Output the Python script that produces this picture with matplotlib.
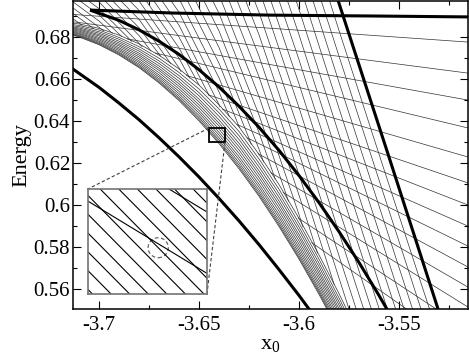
import numpy as np
import matplotlib
matplotlib.use("Agg")
import matplotlib.pyplot as plt
from matplotlib.patches import Rectangle, Ellipse

plt.rcParams['font.family'] = ['Liberation Serif', 'DejaVu Serif']
plt.rcParams['mathtext.fontset'] = 'custom'
plt.rcParams['mathtext.rm'] = 'Liberation Serif'
plt.rcParams['mathtext.it'] = 'Liberation Serif:italic'

n = np.nan

# x positions where the band levels were read
band_x = [-3.72, -3.71, -3.70, -3.69, -3.68, -3.67, -3.66, -3.65,
          -3.64, -3.63, -3.62, -3.61, -3.60, -3.59, -3.58, -3.57]

# dense band of levels, lower edge first
band_E = [
    [0.6827, 0.6802, 0.6765, 0.6716, 0.6656, 0.6583, 0.6499, 0.6402, 0.6294, 0.6174, 0.6043, 0.5899, 0.5744, 0.5576, 0.5397, n],
    [0.6829, 0.6805, 0.6768, 0.6720, 0.6660, 0.6588, 0.6505, 0.6409, 0.6302, 0.6182, 0.6051, 0.5907, 0.5751, 0.5584, 0.5404, n],
    [0.6831, 0.6808, 0.6772, 0.6725, 0.6666, 0.6595, 0.6512, 0.6418, 0.6311, 0.6192, 0.6061, 0.5917, 0.5761, 0.5593, 0.5414, n],
    [0.6834, 0.6811, 0.6777, 0.6730, 0.6673, 0.6603, 0.6521, 0.6428, 0.6322, 0.6204, 0.6073, 0.5929, 0.5773, 0.5604, 0.5425, n],
    [0.6837, 0.6816, 0.6782, 0.6737, 0.6681, 0.6612, 0.6532, 0.6440, 0.6335, 0.6218, 0.6087, 0.5943, 0.5786, 0.5618, 0.5437, n],
    [0.6841, 0.6820, 0.6788, 0.6744, 0.6689, 0.6621, 0.6543, 0.6452, 0.6348, 0.6232, 0.6101, 0.5957, 0.5800, 0.5631, 0.5450, n],
    [0.6844, 0.6825, 0.6794, 0.6751, 0.6698, 0.6632, 0.6555, 0.6466, 0.6363, 0.6248, 0.6117, 0.5973, 0.5815, 0.5646, 0.5465, n],
    [0.6848, 0.6830, 0.6800, 0.6759, 0.6707, 0.6643, 0.6567, 0.6479, 0.6378, 0.6264, 0.6133, 0.5989, 0.5831, 0.5661, 0.5479, n],
    [0.6852, 0.6835, 0.6807, 0.6766, 0.6716, 0.6653, 0.6579, 0.6493, 0.6392, 0.6280, 0.6149, 0.6005, 0.5847, 0.5676, 0.5494, n],
    [0.6855, 0.6840, 0.6813, 0.6774, 0.6725, 0.6664, 0.6591, 0.6506, 0.6407, 0.6296, 0.6165, 0.6021, 0.5862, 0.5691, 0.5508, 0.5314],
    [0.6859, 0.6845, 0.6820, 0.6782, 0.6735, 0.6676, 0.6605, 0.6522, 0.6424, 0.6314, 0.6183, 0.6039, 0.5880, 0.5708, 0.5525, 0.5330],
    [0.6863, 0.6851, 0.6827, 0.6791, 0.6745, 0.6688, 0.6618, 0.6537, 0.6441, 0.6332, 0.6201, 0.6057, 0.5897, 0.5725, 0.5541, 0.5346],
    [0.6868, 0.6857, 0.6835, 0.6800, 0.6756, 0.6701, 0.6633, 0.6554, 0.6459, 0.6352, 0.6221, 0.6077, 0.5916, 0.5744, 0.5559, 0.5364],
    [0.6873, 0.6864, 0.6843, 0.6811, 0.6769, 0.6715, 0.6650, 0.6573, 0.6479, 0.6374, 0.6243, 0.6099, 0.5938, 0.5764, 0.5580, 0.5383],
]

# x positions where the steep levels were read
x_cols = [-3.72, -3.70, -3.68, -3.66, -3.64, -3.62, -3.60, -3.58, -3.56, -3.54, -3.52]

# steep levels; the ones that run into the band stop at (end_x, end_E)
steep_E = [
    [0.6935, n, n, n, n, n, n, n, n, n, n],
    [0.6963, n, n, n, n, n, n, n, n, n, n],
    [0.6990, n, n, n, n, n, n, n, n, n, n],
    [0.7018, 0.6878, n, n, n, n, n, n, n, n, n],
    [0.7047, 0.6907, n, n, n, n, n, n, n, n, n],
    [0.7077, 0.6937, n, n, n, n, n, n, n, n, n],
    [0.7109, 0.6969, n, n, n, n, n, n, n, n, n],
    [n, 0.7003, 0.6809, n, n, n, n, n, n, n, n],
    [n, 0.7040, 0.6846, n, n, n, n, n, n, n, n],
    [n, 0.7080, 0.6886, n, n, n, n, n, n, n, n],
    [n, 0.7123, 0.6929, 0.6655, n, n, n, n, n, n, n],
    [n, 0.7169, 0.6974, 0.6701, n, n, n, n, n, n, n],
    [n, n, 0.7023, 0.6750, n, n, n, n, n, n, n],
    [n, n, 0.7075, 0.6802, n, n, n, n, n, n, n],
    [n, n, 0.7131, 0.6858, 0.6480, n, n, n, n, n, n],
    [n, n, 0.7192, 0.6920, 0.6541, n, n, n, n, n, n],
    [n, n, n, 0.6985, 0.6607, n, n, n, n, n, n],
    [n, n, n, 0.7055, 0.6677, n, n, n, n, n, n],
    [n, n, n, 0.7130, 0.6752, 0.6268, n, n, n, n, n],
    [n, n, n, 0.7210, 0.6831, 0.6347, n, n, n, n, n],
    [n, n, n, 0.7293, 0.6915, 0.6431, n, n, n, n, n],
    [n, n, n, n, 0.7004, 0.6519, 0.5956, n, n, n, n],
    [n, n, n, n, 0.7097, 0.6613, 0.6049, n, n, n, n],
    [n, n, n, n, 0.7195, 0.6711, 0.6147, n, n, n, n],
    [n, n, n, n, 0.7297, 0.6813, 0.6249, 0.5654, 0.5065, n, n],
    [n, n, n, n, 0.7404, 0.6920, 0.6356, 0.5760, 0.5171, n, n],
    [n, n, n, n, n, 0.7030, 0.6466, 0.5870, 0.5281, n, n],
    [n, n, n, n, n, 0.7142, 0.6579, 0.5983, 0.5394, n, n],
    [n, n, n, n, n, 0.7258, 0.6694, 0.6099, 0.5510, 0.4924, n],
    [n, n, n, n, n, 0.7377, 0.6813, 0.6217, 0.5629, 0.5042, n],
    [n, n, n, n, n, 0.7499, 0.6934, 0.6339, 0.5750, 0.5164, n],
    [n, n, n, n, n, n, 0.7059, 0.6463, 0.5874, 0.5288, n],
    [n, n, n, n, n, n, 0.7183, 0.6587, 0.5998, 0.5412, n],
    [n, n, n, n, n, n, 0.7306, 0.6711, 0.6122, 0.5536, 0.4953],
    [n, n, n, n, n, n, 0.7430, 0.6834, 0.6245, 0.5660, 0.5077],
]
steep_end_x = [-3.70825, -3.70255, -3.6975, -3.6932, -3.68865, -3.6835, -3.67835, -3.67395,
               -3.66915, -3.6641, -3.6589, -3.65455, -3.6499, -3.6449, -3.63945, -3.63475,
               -3.6297, -3.62375, -3.6177, -3.61185, -3.6052, -3.598, -3.5907, -3.58235,
               n, n, n, n, n, n, n, n, n, n, n]
steep_end_E = [0.6857, 0.6841, 0.6830, 0.6818, 0.6804, 0.6780, 0.6755, 0.6734,
               0.6710, 0.6674, 0.6636, 0.6605, 0.6572, 0.6523, 0.6468, 0.6421,
               0.6370, 0.6289, 0.6205, 0.6124, 0.6018, 0.5896, 0.5771, 0.5621,
               n, n, n, n, n, n, n, n, n, n, n]

# slowly falling levels: start and end points
shallow_x0 = [-3.720, -3.720, -3.686, -3.672, -3.6565, -3.6455, -3.6385, -3.631, -3.626, -3.6205, -3.61425, -3.608, -3.6005, -3.59375]
shallow_E0 = [0.6914, 0.6883, 0.6793, 0.6726, 0.6619, 0.6527, 0.6459, 0.6385, 0.6322, 0.6246, 0.6156, 0.6062, 0.5940, 0.5823]
shallow_x1 = [-3.510, -3.510, -3.510, -3.510, -3.510, -3.510, -3.510, -3.510, -3.510, -3.510, -3.510, -3.510, -3.5295, -3.5435]
shallow_E1 = [0.6774, 0.6623, 0.6492, 0.6356, 0.6215, 0.6089, 0.5981, 0.5878, 0.5780, 0.5678, 0.5580, 0.5483, 0.5494, 0.5488]

# highlighted levels (thick)
t1_x = [-3.716, -3.70, -3.69, -3.68, -3.67, -3.66, -3.65, -3.64, -3.63, -3.62, -3.61, -3.60, -3.59]
t1_E = [0.6669, 0.6562, 0.6487, 0.6408, 0.6322, 0.6231, 0.6135, 0.6033, 0.5926, 0.5813, 0.5694, 0.5571, 0.5441]
t2_x = [-3.7045, -3.69, -3.68, -3.67, -3.66, -3.65, -3.64, -3.63, -3.62, -3.61, -3.60, -3.59, -3.58, -3.57, -3.56, -3.553]
t2_E = [0.6930, 0.6881, 0.6836, 0.6782, 0.6719, 0.6646, 0.6564, 0.6472, 0.6372, 0.6262, 0.6142, 0.6013, 0.5875, 0.5728, 0.5571, 0.5456]
t3_x = [-3.7045, -3.663, -3.6145, -3.5645, -3.510]
t3_E = [0.6930, 0.6916, 0.6906, 0.6902, 0.6897]
t4_x = [-3.5815, -3.5545, -3.5295]
t4_E = [0.7007, 0.6216, 0.5478]

# magnified region and the levels seen inside it
zoom_x = (-3.645, -3.637)
zoom_E = (0.6301, 0.6368)
inset_box = (-3.7055, 0.5578, 0.0595, 0.0500)
inset_left_E = [0.63038, 0.63158, 0.63278, 0.63398, 0.63518, 0.63638, 0.63758,
                0.63878, 0.63998, 0.64118, 0.64238, 0.64358, 0.63602, 0.63992]
inset_right_E = [0.62270, 0.62390, 0.62510, 0.62630, 0.62750, 0.62870, 0.62990,
                 0.63110, 0.63230, 0.63350, 0.63470, 0.63590, 0.63141, 0.63533]

fig = plt.figure(figsize=(4.69, 3.56), dpi=100)
ax = fig.add_axes([0.1557, 0.132, 0.842, 0.865])

thin = dict(color='0.2', lw=0.5, solid_capstyle='butt')
for row in band_E:
    ax.plot(band_x, row, **thin)
for row, ex, ee in zip(steep_E, steep_end_x, steep_end_E):
    xs = [x for x, e in zip(x_cols, row) if not np.isnan(e)]
    es = [e for e in row if not np.isnan(e)]
    if not np.isnan(ex):
        xs.append(ex)
        es.append(ee)
    ax.plot(xs, es, **thin)
for a, b, c, d in zip(shallow_x0, shallow_E0, shallow_x1, shallow_E1):
    ax.plot([a, c], [b, d], **thin)

thick = dict(color='k', lw=2.2, solid_capstyle='butt')
ax.plot(t1_x, t1_E, **thick)
ax.plot(t2_x, t2_E, **thick)
ax.plot(t3_x, t3_E, **thick)
ax.plot(t4_x, t4_E, **thick)

# small square and connectors
ax.add_patch(Rectangle((zoom_x[0], zoom_E[0]), zoom_x[1] - zoom_x[0], zoom_E[1] - zoom_E[0],
                       fill=False, ec='k', lw=1.3, zorder=5))
ix, iy, iw, ih = inset_box
ax.plot([zoom_x[0], ix], [zoom_E[1], iy + ih], ls=(0, (3, 2)), color='0.25', lw=0.8, zorder=5)
ax.plot([zoom_x[1], ix + iw], [zoom_E[0], iy], ls=(0, (3, 2)), color='0.25', lw=0.8, zorder=5)

axin = ax.inset_axes([ix, iy, iw, ih], transform=ax.transData, zorder=6)
for a, b in zip(inset_left_E, inset_right_E):
    axin.plot(zoom_x, [a, b], color='k', lw=0.8)
axin.set_xlim(zoom_x)
axin.set_ylim(zoom_E)
axin.set_xticks([])
axin.set_yticks([])
for s in axin.spines.values():
    s.set_color('0.45')
    s.set_linewidth(1.2)
axin.add_patch(Ellipse((0.59, 0.44), 0.17, 0.19, transform=axin.transAxes, fill=False,
                       ls=(0, (3, 2)), ec='0.4', lw=0.9))

ax.set_xlim(-3.713, -3.5155)
ax.set_ylim(0.5506, 0.6973)
ax.set_xticks([-3.7, -3.65, -3.6, -3.55])
ax.set_xticklabels(['-3.7', '-3.65', '-3.6', '-3.55'])
ax.set_xticks([-3.675, -3.625, -3.575, -3.525], minor=True)
ax.set_yticks([0.56, 0.58, 0.6, 0.62, 0.64, 0.66, 0.68])
ax.set_yticklabels(['0.56', '0.58', '0.6', '0.62', '0.64', '0.66', '0.68'])
ax.set_yticks([0.57, 0.59, 0.61, 0.63, 0.65, 0.67, 0.69], minor=True)
ax.tick_params(which='both', direction='in', top=True, right=True, labelsize=15, width=0.8)
ax.tick_params(which='major', length=5.8)
ax.tick_params(which='minor', length=3)
ax.tick_params(axis='y', pad=2)
ax.tick_params(axis='x', pad=5)
for s in ax.spines.values():
    s.set_linewidth(1.1)

ax.set_xlabel(r'x$_{\mathrm{0}}$', fontsize=16, labelpad=0)
ax.set_ylabel('Energy', fontsize=16, labelpad=2)

fig.savefig('out.png', dpi=100)
